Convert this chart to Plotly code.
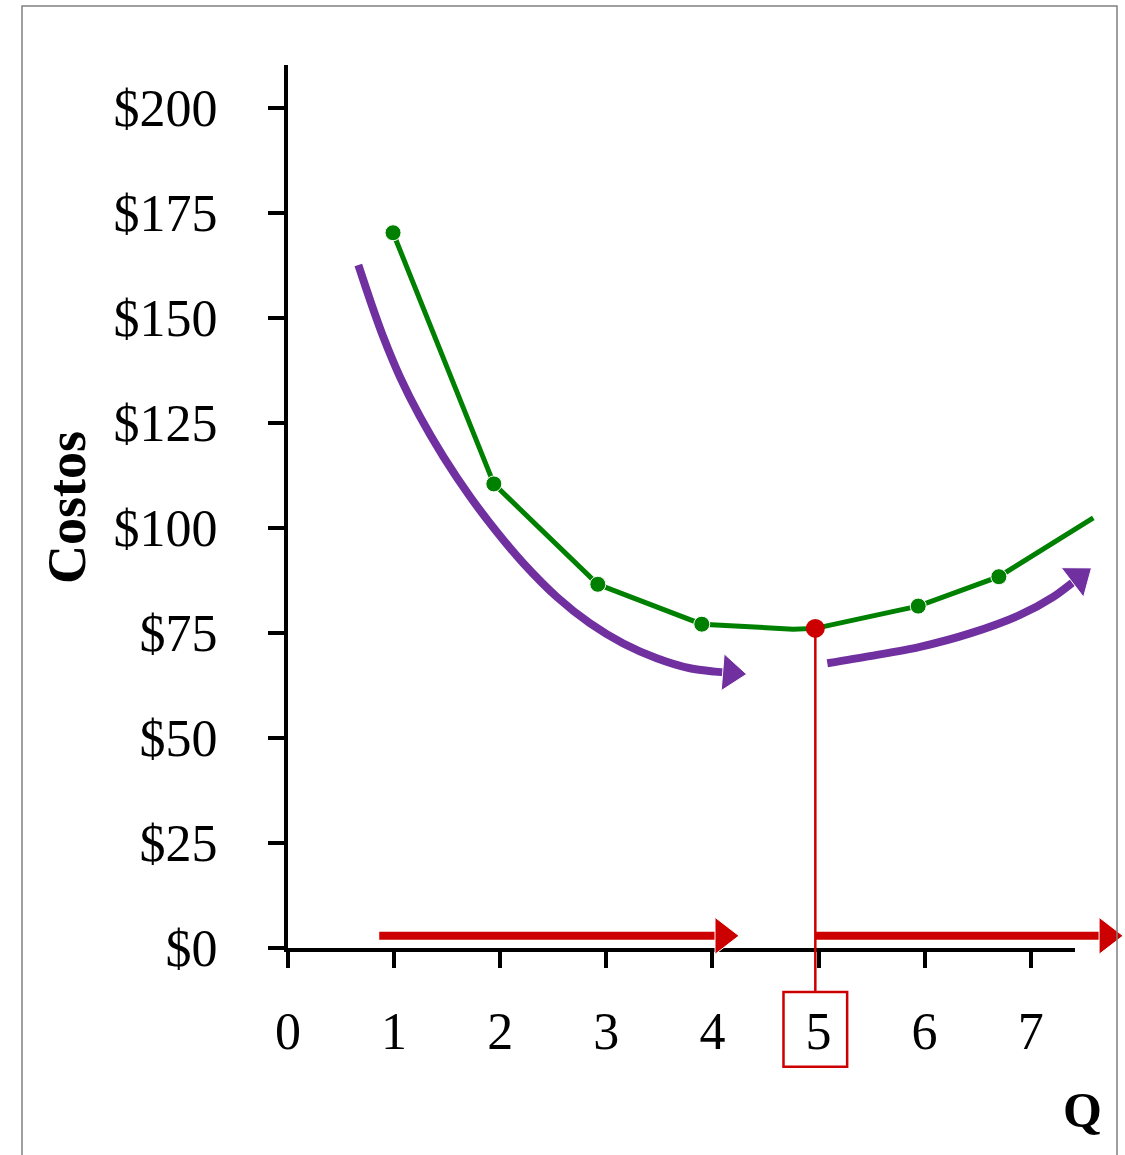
import plotly.graph_objects as go

# --- data ------------------------------------------------------------------
q_costo = [0.99, 1.94, 2.92, 3.90, 4.76, 4.97, 5.72, 5.94, 6.70, 7.59]
costo = [170.3, 110.5, 86.6, 77.1, 75.9, 76.1, 80.2, 81.4, 88.4, 102.4]
con_punto = [1, 1, 1, 1, 0, 0, 0, 1, 1, 0]

q_optimo = 4.97
costo_optimo = 76.1

# purple trend arrows (falling, then rising)
q_baja = [0.663, 0.773, 0.898, 1.055, 1.244, 1.464, 1.715, 1.967, 2.218,
          2.533, 2.846, 3.160, 3.475, 3.789, 4.025, 4.172]
c_baja = [162.6, 154.3, 145.5, 136.0, 126.5, 117.0, 107.5, 99.1, 91.6,
          83.6, 77.3, 72.5, 69.0, 66.6, 65.8, 65.5]
q_sube = [5.083, 5.485, 5.957, 6.428, 6.899, 7.213, 7.453]
c_sube = [67.8, 69.5, 71.7, 74.9, 79.3, 83.6, 88.2]

# red arrows along the Q axis
q_flecha1 = [0.86, 4.10]
q_flecha2 = [4.97, 7.72]
c_flecha = 2.9

y_ticks = [0, 25, 50, 75, 100, 125, 150, 175, 200]
y_labels = ["$%d" % v for v in y_ticks]
x_ticks = [0, 1, 2, 3, 4, 5, 6, 7]

# --- geometry (pixels in a 1125x1155 page) ---------------------------------
W, H = 1125, 1155
X0, Y0 = 288, 948          # pixel of the origin
PX_Q, PX_USD = 106.1, 4.2  # pixels per unit
AX_RIGHT, AX_TOP = 1075, 65
DATA_RIGHT, DATA_BOTTOM = 1125, 1070

VERDE = "#008000"
ROJO = "#CC0000"
MORADO = "#7030A0"
FUENTE = "Liberation Serif"


def px(xp):
    return xp / W


def py(yp):
    return (H - yp) / H


def flecha(x, y, color, suave=False):
    sizes = [0] * (len(x) - 1) + [32]
    linea = dict(color=color, width=8)
    if suave:
        linea.update(shape="spline", smoothing=0.8)
    return go.Scatter(
        x=x, y=y,
        mode="lines+markers",
        line=linea,
        marker=dict(symbol="triangle-up", size=sizes, color=color,
                    opacity=1, angleref="previous"),
        xaxis="x2", yaxis="y2",
        hoverinfo="skip",
        cliponaxis=False)


data = [
    # empty trace so the visible axes get a subplot
    go.Scatter(x=[], y=[], xaxis="x", yaxis="y"),
    flecha(q_baja, c_baja, MORADO, suave=True),
    flecha(q_sube, c_sube, MORADO, suave=True),
    flecha(q_flecha1, [c_flecha] * 2, ROJO),
    flecha(q_flecha2, [c_flecha] * 2, ROJO),
    go.Scatter(
        x=[q_optimo, q_optimo],
        y=[costo_optimo, -10.5],
        mode="lines",
        line=dict(color=ROJO, width=2.5),
        xaxis="x2", yaxis="y2",
        hoverinfo="skip"),
    go.Scatter(
        x=q_costo, y=costo,
        mode="lines+markers",
        line=dict(color=VERDE, width=5),
        marker=dict(size=[16 * m for m in con_punto], color=VERDE,
                    opacity=1),
        xaxis="x2", yaxis="y2",
        cliponaxis=False),
    go.Scatter(
        x=[q_optimo], y=[costo_optimo],
        mode="markers",
        marker=dict(size=19, color=ROJO),
        xaxis="x2", yaxis="y2",
        cliponaxis=False),
]

eje = dict(
    showline=True,
    linecolor="black",
    linewidth=4,
    ticks="outside",
    ticklen=16,
    tickwidth=4,
    tickcolor="black",
    showgrid=False,
    zeroline=False,
    automargin=False,
    tickfont=dict(family=FUENTE, size=52, color="black"),
    fixedrange=True)

oculto = dict(visible=False, fixedrange=True, automargin=False)

layout = dict(
    width=W,
    height=H,
    showlegend=False,
    paper_bgcolor="white",
    plot_bgcolor="rgba(0,0,0,0)",
    margin=dict(l=0, r=0, t=0, b=0, pad=0, autoexpand=False),
    xaxis=dict(
        eje,
        domain=[px(X0), px(AX_RIGHT)],
        range=[0, (AX_RIGHT - X0) / PX_Q],
        tickvals=x_ticks,
        ticklabelstandoff=19,
        anchor="y"),
    yaxis=dict(
        eje,
        domain=[py(Y0), py(AX_TOP)],
        range=[0, (Y0 - AX_TOP) / PX_USD],
        tickvals=y_ticks,
        ticktext=y_labels,
        ticklabelstandoff=40,
        anchor="x"),
    xaxis2=dict(
        oculto,
        domain=[px(X0), px(DATA_RIGHT)],
        range=[0, (DATA_RIGHT - X0) / PX_Q],
        anchor="y2"),
    yaxis2=dict(
        oculto,
        domain=[py(DATA_BOTTOM), py(AX_TOP)],
        range=[-(DATA_BOTTOM - Y0) / PX_USD, (Y0 - AX_TOP) / PX_USD],
        anchor="x2"),
    annotations=[
        dict(text="<b>Costos</b>", textangle=-90,
             x=px(67), y=py(508), xref="paper", yref="paper",
             xanchor="center", yanchor="middle", showarrow=False,
             font=dict(family=FUENTE, size=54, color="black")),
        dict(text="<b>Q</b>",
             x=px(1082), y=py(1110), xref="paper", yref="paper",
             xanchor="center", yanchor="middle", showarrow=False,
             font=dict(family=FUENTE, size=50, color="black")),
    ],
    shapes=[
        # box around the optimal quantity label
        dict(type="rect", xref="x2", yref="y2",
             x0=q_optimo - 0.30, x1=q_optimo + 0.30, y0=-28.3, y1=-10.5,
             line=dict(color=ROJO, width=2.5), layer="above"),
        # slide frame
        dict(type="rect", xref="paper", yref="paper",
             x0=px(22), x1=px(1117), y0=-0.05, y1=py(6),
             line=dict(color="#808080", width=1.5)),
    ])

fig = go.Figure(data=data, layout=layout)
fig.write_html("out.html", config=dict(displayModeBar=False),
               post_script="document.body.style.margin='0';")
